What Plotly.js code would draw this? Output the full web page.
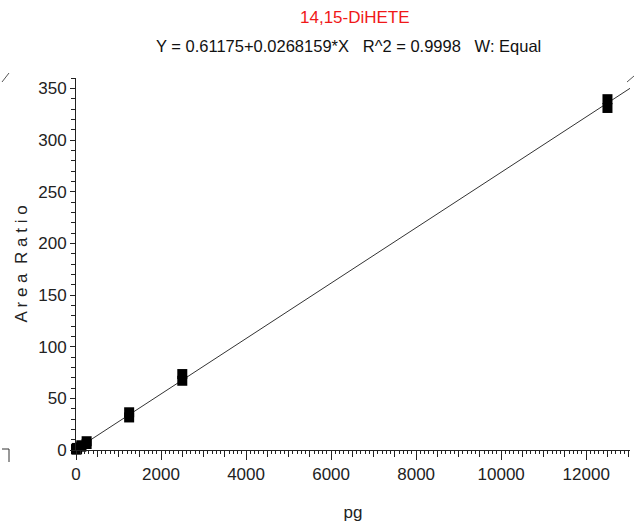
<!DOCTYPE html>
<html><head><meta charset="utf-8">
<script src="https://cdn.plot.ly/plotly-3.0.1.min.js"></script>
<style>html,body{margin:0;padding:0;background:#fff;}</style>
</head><body>
<div id="chart" style="width:634px;height:532px;"></div>
<script>
// Calibration points (pg, area ratio) including replicates
const pointsX = [0, 0, 12.5, 12.5, 25, 25, 125, 125, 250, 250, 1250, 1250, 2500, 2500, 12500, 12500];
const pointsY = [-1.5, 0.8, 0.4, 1.5, 0.9, 2.0, 3.2, 4.6, 5.8, 8.5, 31.5, 36.5, 67.0, 73.5, 331.0, 339.5];
// Fit line endpoints as drawn
const fitX = [0, 13030];
const fitY = [0.61, 350.0];
const titleText = "14,15-DiHETE";
const eqText = "Y = 0.61175+0.0268159*X   R^2 = 0.9998   W: Equal";
const xTitle = "pg";
const yTitle = "A r e a  R a t i o";

const FONT = "'Liberation Sans Narrow', 'Arial Narrow', 'Liberation Sans', sans-serif";
const L = 76, R = 630, T = 78, B = 450;
const px = v => (v - L) / (R - L);
const py = v => (B - v) / (B - T);

const traces = [
  {x: fitX, y: fitY, mode: 'lines', line: {color: '#333', width: 1}, hoverinfo: 'skip', cliponaxis: false},
  {x: pointsX, y: pointsY, mode: 'markers', marker: {symbol: 'square', size: 10, color: '#000'}, cliponaxis: false},
  {x: [0], y: [0], xaxis: 'x2', mode: 'markers', marker: {opacity: 0}, hoverinfo: 'skip'}
];

const layout = {
  width: 634, height: 532,
  margin: {l: L, r: 634 - R, t: T, b: 532 - B},
  paper_bgcolor: '#fff', plot_bgcolor: '#fff',
  showlegend: false,
  font: {family: FONT, size: 17, color: '#222'},
  xaxis: {
    range: [0, 13030], showgrid: false, zeroline: false,
    showline: true, linecolor: '#222', linewidth: 1,
    ticks: 'outside', ticklen: 9, tickwidth: 1, tickcolor: '#222',
    tickvals: [0, 2000, 4000, 6000, 8000, 10000, 12000],
    ticktext: ['0', '2000', '4000', '6000', '8000', '10000', '12000'],
    tickfont: {family: FONT, size: 17, color: '#222'},
    minor: {dtick: 100, tick0: 0, ticks: 'outside', ticklen: 3, tickcolor: '#222', tickwidth: 1, showgrid: false},
    title: {text: xTitle, font: {family: FONT, size: 17, color: '#222'}, standoff: 22}
  },
  xaxis2: {
    overlaying: 'x', anchor: 'y', side: 'bottom', range: [0, 13030],
    showgrid: false, zeroline: false, showline: false,
    ticks: 'outside', ticklen: 6, tickcolor: '#222', tickwidth: 1,
    tick0: 0, dtick: 500, showticklabels: false
  },
  yaxis: {
    range: [0, 360], showgrid: false, zeroline: false,
    showline: true, linecolor: '#222', linewidth: 1,
    ticks: 'outside', ticklen: 5, tickwidth: 1, tickcolor: '#222',
    tick0: 0, dtick: 50,
    tickfont: {family: FONT, size: 17, color: '#222'},
    minor: {dtick: 10, tick0: 0, ticks: 'outside', ticklen: 4, tickcolor: '#222', tickwidth: 1, showgrid: false},
    title: {text: yTitle, font: {family: FONT, size: 17, color: '#222'}, standoff: 6}
  },
  annotations: [
    {text: titleText, xref: 'paper', yref: 'paper', x: px(355), y: py(18), showarrow: false,
     xanchor: 'center', yanchor: 'middle', font: {family: FONT, size: 17, color: '#f01818'}},
    {text: eqText, xref: 'paper', yref: 'paper', x: px(348), y: py(46), showarrow: false,
     xanchor: 'center', yanchor: 'middle', font: {family: FONT, size: 16.5, color: '#111'}}
  ],
  shapes: [
    {type: 'line', xref: 'paper', yref: 'paper', x0: px(2), y0: py(82), x1: px(9), y1: py(73), line: {color: '#555', width: 1}},
    {type: 'line', xref: 'paper', yref: 'paper', x0: px(627), y0: py(82), x1: px(634), y1: py(76), line: {color: '#555', width: 1}},
    {type: 'line', xref: 'paper', yref: 'paper', x0: px(2), y0: py(449), x1: px(9), y1: py(449), line: {color: '#333', width: 1}},
    {type: 'line', xref: 'paper', yref: 'paper', x0: px(9), y0: py(449), x1: px(9), y1: py(462), line: {color: '#333', width: 1}}
  ]
};

Plotly.newPlot('chart', traces, layout, {displayModeBar: false, staticPlot: true});
</script>
</body></html>
